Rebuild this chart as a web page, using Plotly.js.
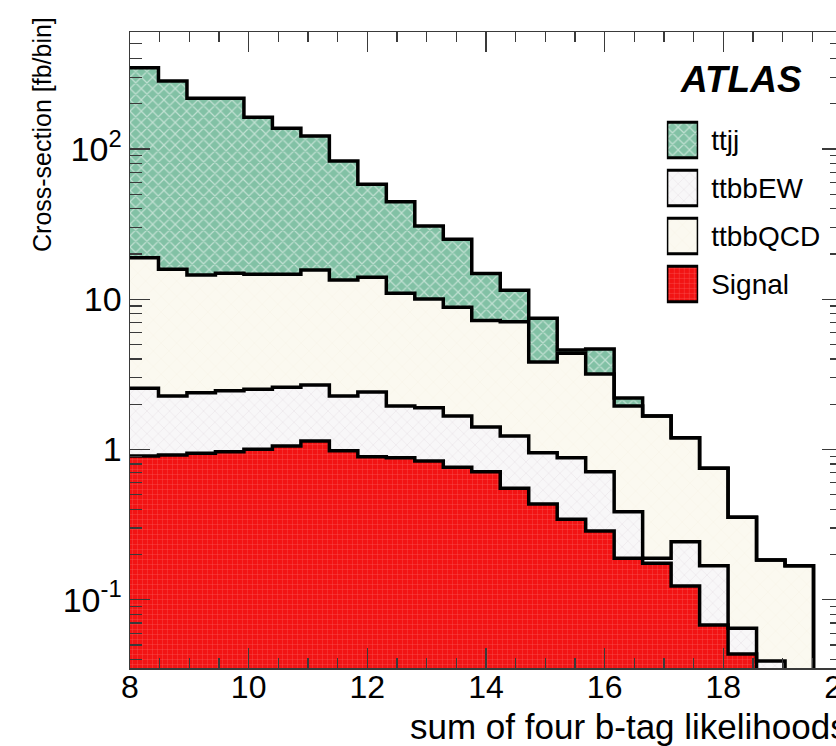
<!DOCTYPE html>
<html>
<head>
<meta charset="utf-8">
<script src="https://cdn.plot.ly/plotly-3.0.1.min.js"></script>
<style>
html,body{margin:0;padding:0;overflow:hidden;background:#fff;}
#chart{width:870px;height:746px;}
</style>
</head>
<body>
<div id="chart"></div>
<script>
// ---- data ----
const binEdges = [8.00, 8.48, 8.96, 9.44, 9.92, 10.40, 10.88, 11.36, 11.84, 12.32, 12.80, 13.28, 13.76,
                  14.24, 14.72, 15.20, 15.68, 16.16, 16.64, 17.12, 17.60, 18.08, 18.56, 19.04, 19.52, 20.00];

const signal  = [0.905, 0.919, 0.943, 0.967, 1.003, 1.055, 1.139, 0.982, 0.896, 0.882, 0.839, 0.761, 0.712,
                 0.552, 0.434, 0.343, 0.287, 0.189, 0.175, 0.1235, 0.068, 0.0436, 0.02, 0, 0];
const ttbbEW  = [1.649, 1.351, 1.445, 1.495, 1.512, 1.538, 1.547, 1.288, 1.517, 1.065, 1.058, 0.910, 0.699,
                 0.678, 0.518, 0.539, 0.425, 0.197, 0.014, 0.120, 0.1006, 0.021, 0.0192, 0, 0];
const ttbbQCD = [16.33, 13.54, 12.10, 12.41, 12.14, 12.06, 12.95, 11.15, 11.58, 9.00, 8.13, 7.16, 5.81,
                 5.86, 2.87, 3.48, 2.47, 1.56, 1.48, 0.955, 0.581, 0.289, 0.145, 0.1686, 0];
const ttjj    = [328, 267, 202.5, 202, 147.6, 122.4, 106.2, 69.7, 44.1, 33.5, 20.7, 16.2, 7.61,
                 4.37, 3.64, 0.23, 1.48, 0.254, 0, 0, 0, 0, 0, 0, 0];

const legendNames = ['ttjj', 'ttbbEW', 'ttbbQCD', 'Signal'];
const yTickVals = [0.1, 1, 10, 100];
const yTickText = ['10<sup>-1</sup>', '1', '10', '10<sup>2</sup>'];
const xTickVals = [8, 10, 12, 14, 16, 18, 20];
const xTitle = 'sum of four b-tag likelihoods';
const yTitle = 'Cross-section [fb/bin]';
const expLabel = 'ATLAS';

// ---- styles ----
const FONT = 'Liberation Sans, Arial, sans-serif';
const styles = {
  'Signal':  {bg: '#f21414', fg: '#ffa0a0', shape: '+', size: 5,  solidity: 0.14},
  'ttbbEW':  {bg: '#f8f7f8', fg: '#b9a9b6', shape: 'x', size: 8,  solidity: 0.07},
  'ttbbQCD': {bg: '#fbf9f0', fg: '#e6e1cf', shape: 'x', size: 11, solidity: 0.05},
  'ttjj':    {bg: '#82c1a5', fg: '#ffffff', shape: 'x', size: 8,  solidity: 0.28}
};
const FLOOR = 1e-3;

// stacking order bottom -> top
const stack = [['Signal', signal], ['ttbbEW', ttbbEW], ['ttbbQCD', ttbbQCD], ['ttjj', ttjj]];

const centers = [], widths = [];
for (let i = 0; i < binEdges.length - 1; i++) {
  centers.push((binEdges[i] + binEdges[i + 1]) / 2);
  widths.push(binEdges[i + 1] - binEdges[i]);
}

const traces = [];
const outlines = [];
let below = signal.map(() => 0);
stack.forEach(([name, vals]) => {
  const st = styles[name];
  const base = below.map(b => Math.max(b, FLOOR));
  const cum = vals.map((v, i) => below[i] + v);
  traces.push({
    type: 'bar', x: centers, y: cum.map((c, i) => Math.max(c, FLOOR) - base[i]), base: base, width: widths,
    marker: {color: st.bg, line: {width: 0},
             pattern: {shape: st.shape, fgcolor: st.fg, bgcolor: st.bg, size: st.size, solidity: st.solidity, fillmode: 'overlay'}},
    showlegend: false, hoverinfo: 'skip', xaxis: 'x', yaxis: 'y'
  });
  const yy = cum.map(c => Math.max(c, FLOOR));
  yy.push(yy[yy.length - 1]);
  outlines.push({
    type: 'scatter', mode: 'lines', x: binEdges, y: yy, line: {shape: 'hv', color: '#000', width: 3.5},
    showlegend: false, hoverinfo: 'skip', xaxis: 'x', yaxis: 'y'
  });
  below = cum;
});
// draw upper stacks first so lower fills overlay them (ROOT THStack order)
traces.reverse();

// legend swatches drawn as bars on a small inset axis
const legendTrace = legendNames.map(n => ({
  type: 'bar', orientation: 'h', x: [1], y: [n], width: 0.74, xaxis: 'x2', yaxis: 'y2',
  marker: {color: styles[n].bg, line: {width: 3, color: '#000'},
           pattern: {shape: styles[n].shape, fgcolor: styles[n].fg, bgcolor: styles[n].bg,
                     size: styles[n].size, solidity: styles[n].solidity, fillmode: 'overlay'}},
  showlegend: false, hoverinfo: 'skip'
}));

const yMinor = [];
for (let d = -2; d <= 2; d++) for (let k = 2; k <= 9; k++) yMinor.push(k * Math.pow(10, d));

const axisColor = '#3a3a3a';
const layout = {
  width: 870, height: 746,
  margin: {l: 130, r: 28, t: 32, b: 78},
  paper_bgcolor: '#fff', plot_bgcolor: '#fff',
  barmode: 'overlay', bargap: 0,
  font: {family: FONT, color: '#000'},
  xaxis: {
    range: [8, 20], showgrid: false, zeroline: false, layer: 'above traces',
    showline: true, linecolor: axisColor, linewidth: 1.5, mirror: 'allticks',
    ticks: 'inside', ticklen: 20, tickwidth: 1.2, tickcolor: axisColor,
    tickmode: 'array', tickvals: xTickVals, ticktext: xTickVals.map(String),
    ticklabeloverflow: 'allow', ticklabelstandoff: -10,
    tickfont: {size: 32, family: FONT},
    minor: {ticks: 'inside', ticklen: 10, tickwidth: 1.2, tickcolor: axisColor, dtick: 0.5, tick0: 8, showgrid: false}
  },
  yaxis: {
    type: 'log', range: [-1.4538, 2.7778], showgrid: false, zeroline: false, layer: 'above traces',
    showline: true, linecolor: axisColor, linewidth: 1.5, mirror: 'allticks',
    ticks: 'inside', ticklen: 20, tickwidth: 1.2, tickcolor: axisColor,
    tickmode: 'array', tickvals: yTickVals, ticktext: yTickText,
    tickfont: {size: 34, family: FONT},
    minor: {ticks: 'inside', ticklen: 12, tickwidth: 1.2, tickcolor: axisColor, tickmode: 'array', tickvals: yMinor, showgrid: false}
  },
  xaxis2: {domain: [0.754, 0.798], range: [0, 1], visible: false, anchor: 'y2', fixedrange: true},
  yaxis2: {domain: [0.566, 0.868], anchor: 'x2', side: 'right', type: 'category',
           autorange: 'reversed', categoryorder: 'array', categoryarray: legendNames,
           showline: false, showgrid: false, zeroline: false, ticks: '', ticklabelstandoff: 12,
           tickfont: {size: 28, family: FONT}},
  annotations: [
    {text: '<b><i>' + expLabel + '</i></b>', xref: 'paper', yref: 'paper', x: 0.858, y: 0.925,
     xanchor: 'center', yanchor: 'middle', showarrow: false,
     font: {size: 37, family: FONT, color: '#000'}},
    {text: xTitle, xref: 'paper', yref: 'paper', x: 1, y: 0, xanchor: 'right', yanchor: 'bottom',
     yshift: -80, xshift: 8, showarrow: false,
     font: {size: 35, family: FONT, color: '#000'}},
    {text: yTitle, xref: 'paper', yref: 'paper', x: 0, y: 1, xanchor: 'center', yanchor: 'middle',
     xshift: -88, yshift: -103, textangle: -90, showarrow: false,
     font: {size: 25, family: FONT, color: '#000'}}
  ]
};

Plotly.newPlot('chart', traces.concat(outlines.reverse(), legendTrace), layout, {staticPlot: true, displayModeBar: false});
</script>
</body>
</html>
